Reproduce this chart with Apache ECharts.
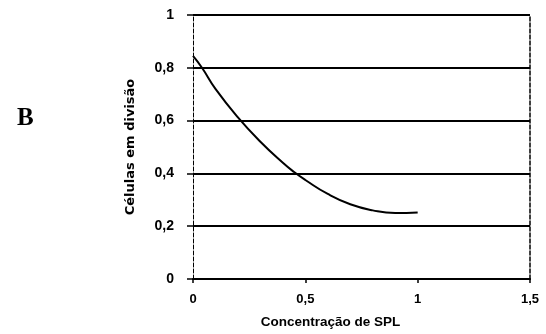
<!DOCTYPE html>
<html>
<head>
<meta charset="utf-8">
<script src="https://cdn.jsdelivr.net/npm/echarts@6/dist/echarts.min.js"></script>
<style>
  html, body { margin: 0; padding: 0; background: #fff; }
  #chart { width: 546px; height: 334px; }
</style>
</head>
<body>
<div id="chart"></div>
<script>
// concentration of SPL (x) and fraction of dividing cells (y)
const concentracao = [0, 0.04, 0.1, 0.2, 0.3, 0.4, 0.45, 0.5, 0.6, 0.7, 0.8, 0.9, 1.0];
const celulas = [0.845, 0.8, 0.72, 0.612, 0.52, 0.44, 0.405, 0.375, 0.322, 0.283, 0.26, 0.25, 0.252];
const xTicks = [0, 0.5, 1, 1.5];
const yTicks = [0, 0.2, 0.4, 0.6, 0.8, 1];

const chart = echarts.init(document.getElementById("chart"));
const labelFont = {
  color: "#000",
  fontFamily: "Liberation Sans",
  fontWeight: 900,
  fontSize: 13,
};
const fmt = (v) => String(v).replace(".", ",");

chart.setOption({
  animation: false,
  backgroundColor: "#fff",
  title: {
    text: "B",
    left: 12,
    top: 101,
    textStyle: { fontFamily: "Liberation Serif", fontWeight: "bold", fontSize: 25, color: "#000" },
  },
  grid: { left: 193, right: 16, top: 15, bottom: 55 },
  xAxis: {
    type: "value",
    min: 0,
    max: 1.5,
    interval: 0.5,
    name: "Concentração de SPL",
    nameLocation: "middle",
    nameGap: 36,
    nameTextStyle: Object.assign({}, labelFont, { fontSize: 13.5, padding: [0, 62, 0, 0] }),
    axisLine: { lineStyle: { color: "#000", width: 2 } },
    axisTick: { show: true, length: 4, inside: false, lineStyle: { color: "#000", width: 1.5 } },
    axisLabel: Object.assign({}, labelFont, { margin: 14, formatter: (v) => (xTicks.includes(v) ? fmt(v) : "") }),
    splitLine: { show: false },
  },
  yAxis: [
    {
      type: "value",
      min: 0,
      max: 1,
      interval: 0.2,
      name: "Células em divisão",
      nameLocation: "middle",
      nameGap: 56,
      nameRotate: 90,
      nameTextStyle: Object.assign({}, labelFont, { fontFamily: "DejaVu Sans", fontWeight: "bold", fontSize: 13 }),
      axisLine: { show: true, lineStyle: { color: "#000", width: 1, type: [4, 2] } },
      axisTick: { show: true, length: 6, lineStyle: { color: "#000", width: 1.5 } },
      axisLabel: Object.assign({}, labelFont, { fontSize: 14, margin: 19, formatter: (v) => (yTicks.includes(+v.toFixed(1)) ? fmt(+v.toFixed(1)) : "") }),
      splitLine: { show: true, lineStyle: { color: "#000", width: 2 } },
    },
    {
      type: "value",
      min: 0,
      max: 1,
      interval: 0.2,
      position: "right",
      axisLine: { show: true, lineStyle: { color: "#000", width: 1.5, type: [4, 2] } },
      axisTick: { show: false },
      axisLabel: { show: false },
      splitLine: { show: false },
    },
  ],
  series: [
    {
      type: "line",
      data: concentracao.map((x, i) => [x, celulas[i]]),
      smooth: true,
      showSymbol: false,
      lineStyle: { color: "#000", width: 2 },
    },
  ],
});
</script>
</body>
</html>
